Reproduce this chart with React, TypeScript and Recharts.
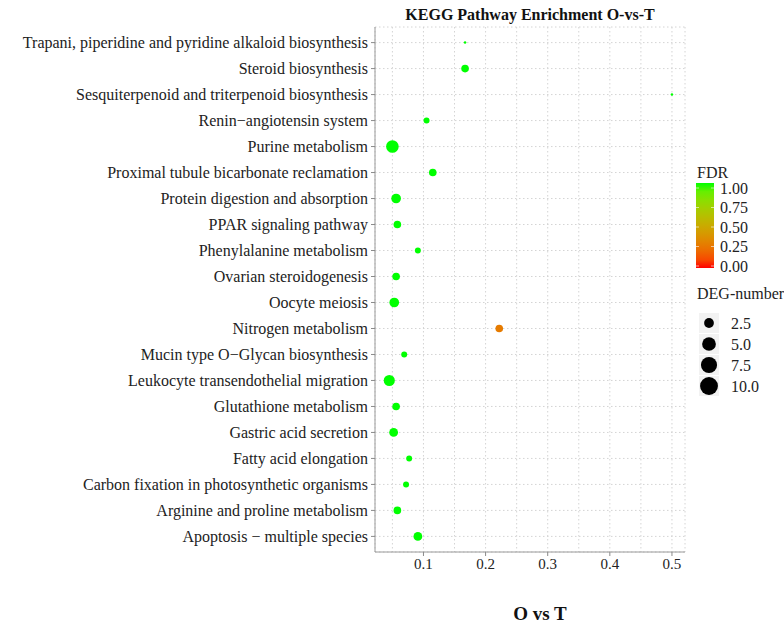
import { CartesianGrid, Cell, Legend, Scatter, ScatterChart, XAxis, YAxis, ZAxis } from 'recharts';

// pathways listed top to bottom as in the figure
const pathways = [
    'Trapani, piperidine and pyridine alkaloid biosynthesis',
    'Steroid biosynthesis',
    'Sesquiterpenoid and triterpenoid biosynthesis',
    'Renin\u2212angiotensin system',
    'Purine metabolism',
    'Proximal tubule bicarbonate reclamation',
    'Protein digestion and absorption',
    'PPAR signaling pathway',
    'Phenylalanine metabolism',
    'Ovarian steroidogenesis',
    'Oocyte meiosis',
    'Nitrogen metabolism',
    'Mucin type O\u2212Glycan biosynthesis',
    'Leukocyte transendothelial migration',
    'Glutathione metabolism',
    'Gastric acid secretion',
    'Fatty acid elongation',
    'Carbon fixation in photosynthetic organisms',
    'Arginine and proline metabolism',
    'Apoptosis \u2212 multiple species',
];
const richFactor = [0.167, 0.167, 0.5, 0.105, 0.05, 0.115, 0.056, 0.058, 0.091, 0.056, 0.053, 0.222, 0.069, 0.045, 0.056, 0.052, 0.077, 0.072, 0.058, 0.091];
const degNumber = [1, 3, 1, 2, 10, 3, 5, 3, 2, 3, 5, 3, 2, 7, 3, 4, 2, 2, 3, 4];
const fdr = [1, 1, 1, 1, 1, 1, 1, 1, 1, 1, 1, 0.27, 1, 1, 1, 1, 1, 1, 1, 1];

const xTicks = [0.05, 0.1, 0.15, 0.2, 0.25, 0.3, 0.35, 0.4, 0.45, 0.5];
const fdrTicks = [1, 0.75, 0.5, 0.25, 0];
const sizeBreaks = [2.5, 5, 7.5, 10];

const FONT = '"Liberation Serif", "DejaVu Serif", serif';
const SIZE_DOMAIN = [1, 10];
const SIZE_RANGE = [5, 125];
const LEGEND_SCALE = 1.42; // legend keys are drawn bigger than the plot points

// red -> green through Lab, like ggplot's scale_colour_gradient
const toLin = (c: number) => {
    c /= 255;
    return c <= 0.04045 ? c / 12.92 : Math.pow((c + 0.055) / 1.055, 2.4);
};
const f = (t: number) => (t > 0.008856 ? Math.cbrt(t) : 7.787 * t + 16 / 116);
const finv = (t: number) => (t * t * t > 0.008856 ? t * t * t : (t - 16 / 116) / 7.787);
const toLab = (r: number, g: number, b: number) => {
    const R = toLin(r), G = toLin(g), B = toLin(b);
    const X = (0.4124 * R + 0.3576 * G + 0.1805 * B) / 0.95047;
    const Y = 0.2126 * R + 0.7152 * G + 0.0722 * B;
    const Z = (0.0193 * R + 0.1192 * G + 0.9505 * B) / 1.08883;
    return [116 * f(Y) - 16, 500 * (f(X) - f(Y)), 200 * (f(Y) - f(Z))];
};
const fromLab = (L: number, a: number, b: number) => {
    const fy = (L + 16) / 116;
    const X = 0.95047 * finv(fy + a / 500);
    const Y = finv(fy);
    const Z = 1.08883 * finv(fy - b / 200);
    const lin = [
        3.2406 * X - 1.5372 * Y - 0.4986 * Z,
        -0.9689 * X + 1.8758 * Y + 0.0415 * Z,
        0.0557 * X - 0.204 * Y + 1.057 * Z,
    ];
    const out = lin.map((c) => {
        const v = c <= 0.0031308 ? 12.92 * c : 1.055 * Math.pow(c, 1 / 2.4) - 0.055;
        return Math.round(Math.min(1, Math.max(0, v)) * 255);
    });
    return `rgb(${out[0]},${out[1]},${out[2]})`;
};
const LOW = toLab(255, 0, 0);
const HIGH = toLab(0, 255, 0);
const fdrColor = (v: number) => fromLab(LOW[0] + (HIGH[0] - LOW[0]) * v, LOW[1] + (HIGH[1] - LOW[1]) * v, LOW[2] + (HIGH[2] - LOW[2]) * v);

// same sqrt area mapping as the ZAxis below
const sizeRadius = (v: number) => {
    const t = (Math.sqrt(v) - Math.sqrt(SIZE_DOMAIN[0])) / (Math.sqrt(SIZE_DOMAIN[1]) - Math.sqrt(SIZE_DOMAIN[0]));
    return Math.sqrt((SIZE_RANGE[0] + t * (SIZE_RANGE[1] - SIZE_RANGE[0])) / Math.PI);
};

const rows = pathways.map((name, i) => ({
    name,
    y: pathways.length - i,
    ratio: richFactor[i],
    count: degNumber[i],
    fdr: fdr[i],
}));

const XTick = ({ x, y, payload }: any) => {
    const v = payload.value;
    if (Math.round(v * 100) % 10 !== 0) return <g />;
    return (
        <g>
            <line x1={x} x2={x} y1={y - 6} y2={y - 2} stroke="#8a8a8a" />
            <text x={x} y={y} dy="0.71em" textAnchor="middle" fontSize={15} fontFamily={FONT} fill="#222">
                {v.toFixed(1)}
            </text>
        </g>
    );
};

const LegendBox = () => {
    const barTop = 23;
    const y0 = 106;
    const span = 78;
    return (
        <svg width={94} height={240} style={{ fontFamily: FONT }}>
            <defs>
                <linearGradient id="fdrGrad" x1="0" y1="1" x2="0" y2="0">
                    {[0, 0.1, 0.2, 0.3, 0.4, 0.5, 0.6, 0.7, 0.8, 0.9, 1].map((s) => (
                        <stop key={s} offset={`${s * 100}%`} stopColor={fdrColor(s)} />
                    ))}
                </linearGradient>
            </defs>
            <text x={7} y={12} dy="0.35em" fontSize={16} fill="#222">FDR</text>
            <rect x={6} y={barTop} width={18} height={85} fill="url(#fdrGrad)" />
            {fdrTicks.map((v) => {
                const ty = y0 - v * span;
                return (
                    <g key={v}>
                        <line x1={6} x2={9} y1={ty} y2={ty} stroke="#fff" strokeOpacity={0.6} />
                        <line x1={21} x2={24} y1={ty} y2={ty} stroke="#fff" strokeOpacity={0.6} />
                        <text x={30} y={ty} dy="0.35em" fontSize={16} fill="#222">{v.toFixed(2)}</text>
                    </g>
                );
            })}
            <text x={7} y={133} dy="0.35em" fontSize={16} fill="#222">DEG-number</text>
            {sizeBreaks.map((v, i) => {
                const cy = 163 + i * 21;
                return (
                    <g key={v}>
                        <rect x={9} y={cy - 10} width={20} height={20} fill="#f2f2f2" />
                        <circle cx={19} cy={cy} r={sizeRadius(v) * LEGEND_SCALE} fill="#000" />
                        <text x={41} y={cy} dy="0.35em" fontSize={16} fill="#222">{v.toFixed(1)}</text>
                    </g>
                );
            })}
        </svg>
    );
};

const App = () => {
    const border = '#9a9a9a';
    return (
        <div style={{ position: 'absolute', left: 0, top: 0, width: 784, height: 626, background: '#fff', fontFamily: FONT }}>
            <div style={{ position: 'absolute', left: 330, top: 5, width: 400, textAlign: 'center', fontSize: 16, lineHeight: '20px', fontWeight: 'bold', color: '#111' }}>
                KEGG Pathway Enrichment O-vs-T
            </div>
            <ScatterChart width={784} height={626} margin={{ top: 27, right: 99, bottom: 0, left: 0 }}>
                <CartesianGrid stroke="#d4d4d4" strokeDasharray="1.5 2.5" />
                <XAxis
                    type="number"
                    dataKey="ratio"
                    domain={[0.022, 0.521]}
                    allowDataOverflow
                    ticks={xTicks}
                    interval={0}
                    height={74}
                    tickSize={4}
                    tickMargin={2}
                    tickLine={false}
                    tick={<XTick />}
                    axisLine={{ stroke: border }}
                />
                <XAxis xAxisId="top" orientation="top" type="number" domain={[0.022, 0.521]} height={0} tick={false} tickLine={false} axisLine={{ stroke: border }} />
                <YAxis
                    type="number"
                    dataKey="y"
                    domain={[0.4, 20.6]}
                    allowDataOverflow
                    ticks={rows.map((r) => r.y)}
                    interval={0}
                    width={375}
                    tickSize={4}
                    tickMargin={3}
                    tickFormatter={(v: number) => pathways[pathways.length - v]}
                    tick={{ fontSize: 16, fontFamily: FONT, fill: '#222' }}
                    tickLine={{ stroke: '#8a8a8a' }}
                    axisLine={{ stroke: border }}
                />
                <YAxis yAxisId="right" orientation="right" type="number" domain={[0.4, 20.6]} width={0} tick={false} tickLine={false} axisLine={{ stroke: border }} />
                <ZAxis type="number" dataKey="count" domain={SIZE_DOMAIN} range={SIZE_RANGE} scale="sqrt" />
                <Scatter data={rows} isAnimationActive={false}>
                    {rows.map((r, i) => (
                        <Cell key={`pt-${i}`} fill={fdrColor(r.fdr)} />
                    ))}
                </Scatter>
                <Legend
                    layout="horizontal"
                    verticalAlign="middle"
                    align="center"
                    content={<LegendBox />}
                    wrapperStyle={{ left: 690, top: 160, width: 94, height: 240 }}
                />
            </ScatterChart>
            <div style={{ position: 'absolute', left: 390, top: 602, width: 300, textAlign: 'center', fontSize: 19, lineHeight: '24px', fontWeight: 'bold', color: '#111' }}>
                O vs T
            </div>
        </div>
    );
};

export default App;
